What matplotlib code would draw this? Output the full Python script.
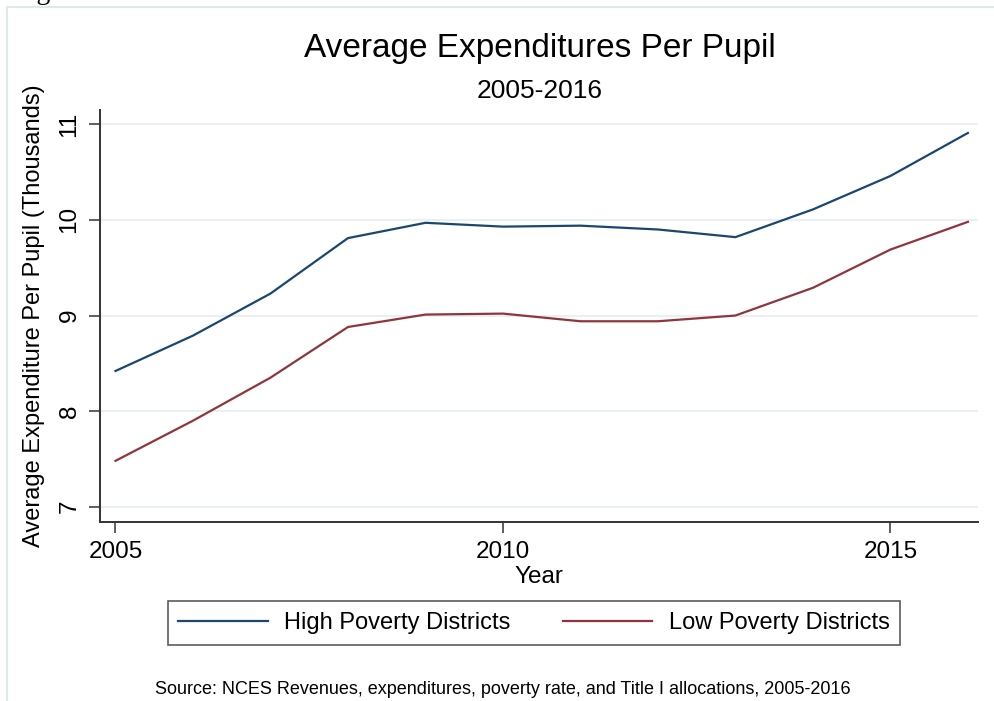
import matplotlib
matplotlib.use('Agg')
import matplotlib.pyplot as plt
from matplotlib.lines import Line2D

plt.rcParams['font.family'] = ['Liberation Sans', 'DejaVu Sans']

years = [2005, 2006, 2007, 2008, 2009, 2010, 2011, 2012, 2013, 2014, 2015, 2016]
high_poverty = [8.42, 8.79, 9.23, 9.81, 9.97, 9.93, 9.94, 9.90, 9.82, 10.11, 10.46, 10.91]
low_poverty = [7.48, 7.90, 8.35, 8.88, 9.01, 9.02, 8.94, 8.94, 9.00, 9.29, 9.69, 9.98]
x_ticks = [2005, 2010, 2015]
y_ticks = [7, 8, 9, 10, 11]

navy = '#1a476f'
maroon = '#90353b'
W, H = 995, 701

fig = plt.figure(figsize=(9.95, 7.01), dpi=100)
fig.patch.set_facecolor('white')

# light frame of the graph region (left and top edges only visible)
fig.add_artist(Line2D([7 / W, 7 / W], [0, 1 - 7 / H], transform=fig.transFigure,
                      color='#dfe9ec', lw=1.5))
fig.add_artist(Line2D([7 / W, 1], [1 - 7 / H, 1 - 7 / H], transform=fig.transFigure,
                      color='#dfe9ec', lw=1.5))

# caption cut off at the very top, as in the source image
fig.text(13 / W, 1 + 1 / H, 'Figure 3', family='Liberation Serif', fontsize=20,
         va='baseline', ha='left', color='black')

ax = fig.add_axes([100 / W, 1 - 522 / H, (978 - 100) / W, (522 - 110) / H])
ax.plot(years, high_poverty, color=navy, lw=1.6, label='High Poverty Districts')
ax.plot(years, low_poverty, color=maroon, lw=1.6, label='Low Poverty Districts')

ax.set_xlim(2004.8, 2016.13)
ax.set_ylim(6.84, 11.15)
ax.set_xticks(x_ticks)
ax.set_yticks(y_ticks)
ax.set_yticklabels([str(v) for v in y_ticks], rotation=90, va='center')
ax.tick_params(axis='both', labelsize=17.5, length=8, width=1.1, color='#333333', pad=6)
ax.grid(True, axis='y', color='#e4eef1', lw=1.2)
ax.set_axisbelow(True)
for s in ['top', 'right']:
    ax.spines[s].set_visible(False)
for s in ['left', 'bottom']:
    ax.spines[s].set_color('#333333')
    ax.spines[s].set_linewidth(1.4)

ax.set_xlabel('Year', fontsize=17.5, labelpad=2)
ax.set_ylabel('Average Expenditure Per Pupil (Thousands)', fontsize=17, labelpad=10)

fig.text(540 / W, 1 - 48 / H, 'Average Expenditures Per Pupil', fontsize=24,
         ha='center', va='center')
fig.text(540 / W, 1 - 91 / H, '2005-2016', fontsize=19, ha='center', va='center')

leg = fig.legend(*ax.get_legend_handles_labels(), loc='center', ncol=2,
                 bbox_to_anchor=(534 / W, 1 - 623 / H), fontsize=17,
                 frameon=True, fancybox=False, edgecolor='#333333',
                 handlelength=3.8, handletextpad=0.7, columnspacing=2.2,
                 borderpad=0.45, borderaxespad=0)
leg.get_frame().set_linewidth(1.2)

fig.text(503 / W, 1 - 690 / H,
         'Source: NCES Revenues, expenditures, poverty rate, and Title I allocations, 2005-2016',
         fontsize=13, ha='center', va='center')

fig.savefig('out.png', dpi=100)
